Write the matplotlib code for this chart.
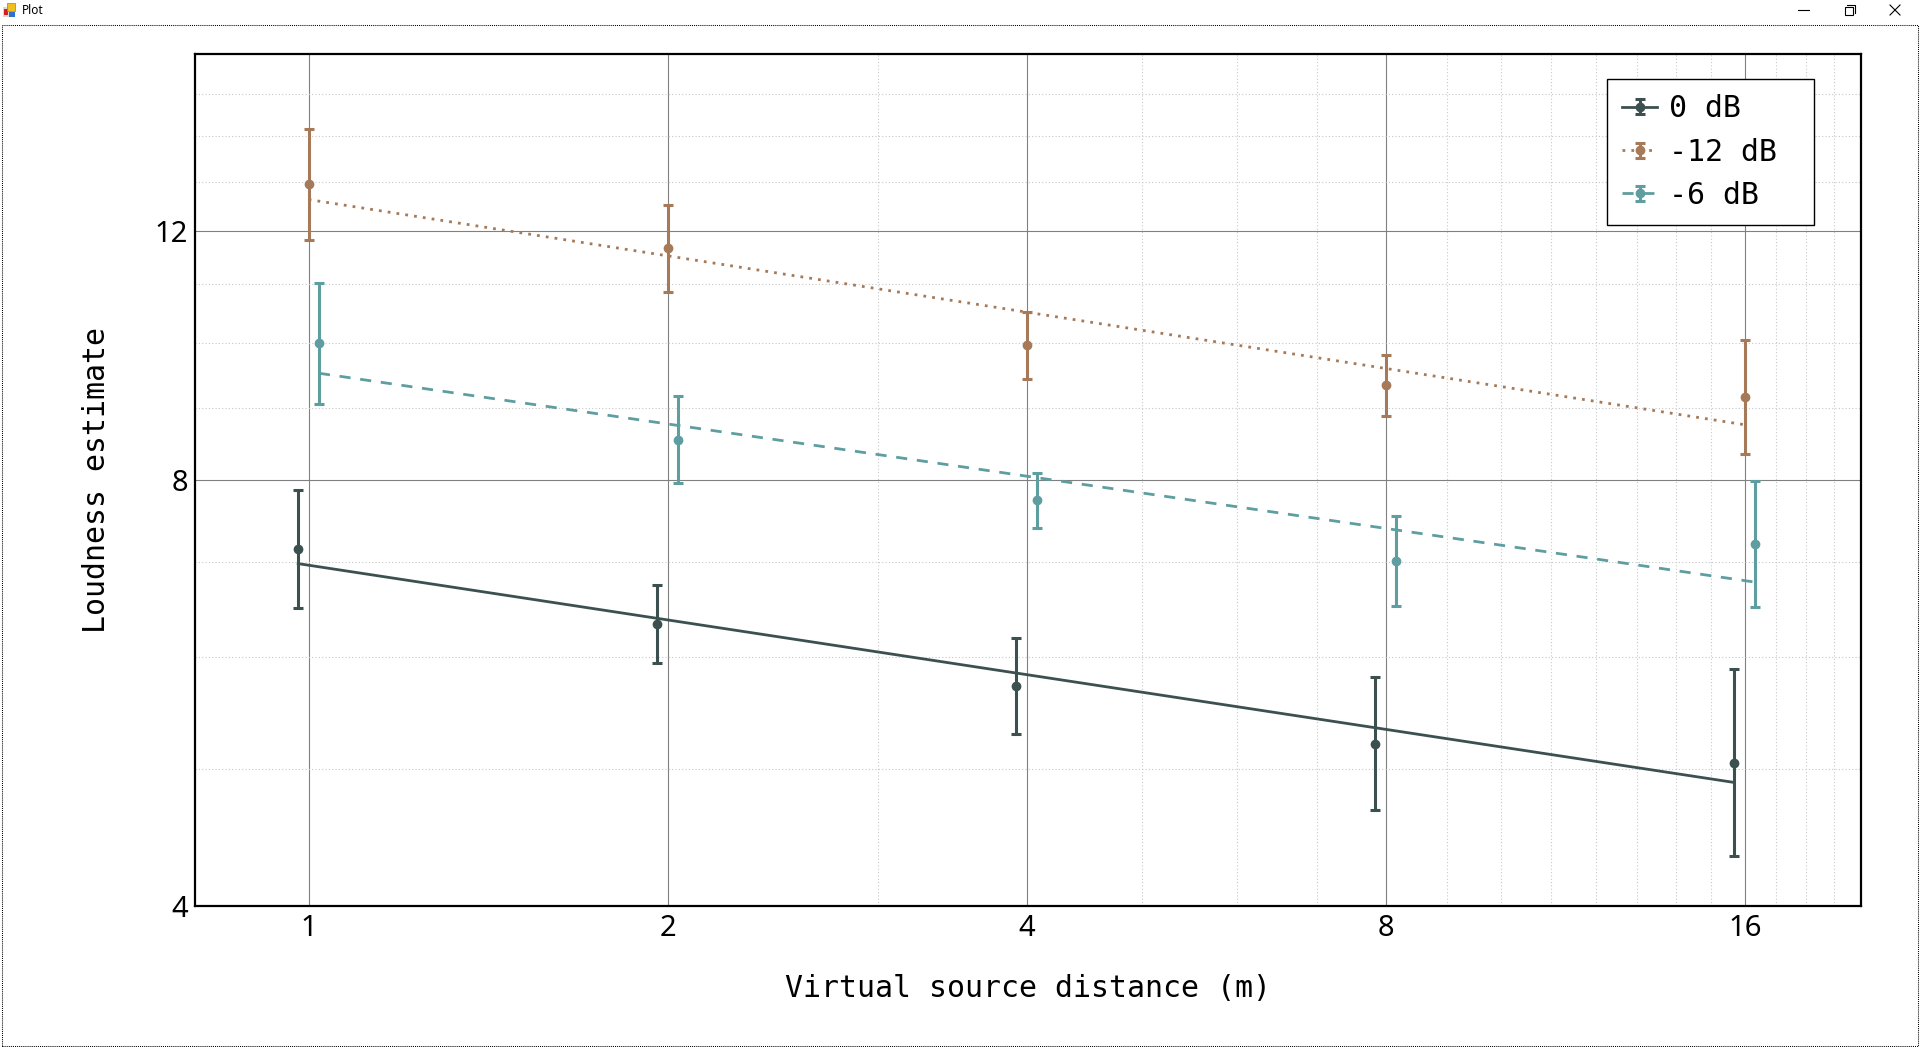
import numpy as np
import matplotlib.pyplot as plt
from matplotlib.container import ErrorbarContainer
from matplotlib.legend_handler import HandlerTuple, HandlerErrorbar
from matplotlib.lines import Line2D
from matplotlib.patches import Rectangle
from matplotlib.ticker import NullFormatter

# data (error bars are multiplicative, symmetric on the log axis)
distance = [1, 2, 4, 8, 16]
series_labels = ['0 dB', '-12 dB', '-6 dB']
loud_0db = [7.15, 6.33, 5.72, 5.21, 5.05]
errf_0db = [1.100, 1.065, 1.081, 1.115, 1.164]
loud_12db = [12.94, 11.66, 9.96, 9.33, 9.15]
errf_12db = [1.095, 1.073, 1.056, 1.051, 1.097]
loud_6db = [9.99, 8.54, 7.74, 7.01, 7.21]
errf_6db = [1.104, 1.073, 1.046, 1.076, 1.108]

x_ticks = [1, 2, 4, 8, 16]
x_minor = [3, 5, 6, 7, 9, 10, 11, 12, 13, 14, 15, 17, 18, 19]
y_ticks = [4, 8, 12]
y_minor = [5, 6, 7, 9, 10, 11, 13, 14, 15]

# style
colors = ['#3d5050', '#a67a58', '#5f9ea0']
line_styles = ['-', (0, (1, 2.2)), (0, (4, 3.5))]
jitter = [0.98, 1.0, 1.02]  # small horizontal offset per series
mono = 'DejaVu Sans Mono'
W, H = 1920, 1047

fig = plt.figure(figsize=(W / 100, H / 100), dpi=100)
fig.patch.set_facecolor('white')


def px(x, y):
    return x / W, 1 - y / H


# window chrome (title bar + focus rectangle)
fig.text(*px(22, 11), 'Plot', fontsize=8.5, family='Noto Sans', va='center', ha='left')
fig.patches.append(Rectangle(px(3, 17), 7 / W, 10 / H, transform=fig.transFigure,
                             facecolor='#d9d9d9', edgecolor='none'))
fig.patches.append(Rectangle(px(4, 15), 4 / W, 6 / H, transform=fig.transFigure,
                             facecolor='#d02020', edgecolor='none'))
fig.patches.append(Rectangle(px(7, 11), 8 / W, 8 / H, transform=fig.transFigure,
                             facecolor='#f0c020', edgecolor='#b08010', lw=0.5))
fig.patches.append(Rectangle(px(9, 17), 6 / W, 5 / H, transform=fig.transFigure,
                             facecolor='#3070d0', edgecolor='none'))
fig.lines.append(Line2D(*zip(px(1798, 10), px(1809, 10)), transform=fig.transFigure,
                        color='black', lw=0.8))
fig.patches.append(Rectangle(px(1845, 15), 8 / W, 8 / H, transform=fig.transFigure,
                             facecolor='white', edgecolor='black', lw=0.8, zorder=3))
fig.lines.append(Line2D(*zip(px(1847, 5), px(1855, 5), px(1855, 13)), transform=fig.transFigure,
                        color='black', lw=0.8))
fig.lines.append(Line2D(*zip(px(1890, 5), px(1900, 15)), transform=fig.transFigure, color='black', lw=0.8))
fig.lines.append(Line2D(*zip(px(1890, 15), px(1900, 5)), transform=fig.transFigure, color='black', lw=0.8))
fig.patches.append(Rectangle(px(1.5, 1046), 1916 / W, 1021 / H, transform=fig.transFigure,
                             facecolor='none', edgecolor='black', lw=0.75, ls=(0, (1, 1))))

# plot area
l, r, t, b = 194.7, 1861, 53.9, 906
ax = fig.add_axes([l / W, 1 - b / H, (r - l) / W, (b - t) / H])
ax.set_xscale('log', base=2)
ax.set_yscale('log', base=2)

handles = []
series = [(loud_0db, errf_0db), (loud_12db, errf_12db), (loud_6db, errf_6db)]
for (y, f), c, ls, j in zip(series, colors, line_styles, jitter):
    y = np.array(y)
    f = np.array(f)
    xj = np.array(distance) * j
    slope, icpt = np.polyfit(np.log(xj), np.log(y), 1)
    xf = np.array([xj[0], xj[-1]])
    fit, = ax.plot(xf, np.exp(icpt) * xf ** slope, color=c, ls=ls, lw=2, zorder=3)
    yerr = [y - y / f, y * f - y]
    eb = ax.errorbar(xj, y, yerr=yerr, fmt='o', color=c, ms=6, elinewidth=2.2,
                     capsize=3.8, capthick=2.2, zorder=4)
    handles.append((fit, eb))

ax.set_xlim(0.8025, 20.02)
ax.set_ylim(4, 16)
ax.set_xticks(x_ticks, labels=[str(v) for v in x_ticks])
ax.set_xticks(x_minor, minor=True)
ax.set_yticks(y_ticks, labels=[str(v) for v in y_ticks])
ax.set_yticks(y_minor, minor=True)
ax.xaxis.set_minor_formatter(NullFormatter())
ax.yaxis.set_minor_formatter(NullFormatter())
ax.tick_params(which='both', length=0)
ax.tick_params(axis='x', labelsize=21, pad=6)
ax.tick_params(axis='y', labelsize=21, pad=5)
for lab in ax.get_xticklabels() + ax.get_yticklabels():
    lab.set_family('Noto Sans')

ax.set_axisbelow(True)
ax.grid(which='major', color='#808080', lw=0.8, ls='-')
ax.grid(which='minor', color='#c8c8c8', lw=0.8, ls=(0, (1, 2)))
for s in ax.spines.values():
    s.set_linewidth(1.6)
    s.set_color('black')

ax.set_xlabel('Virtual source distance (m)', family=mono, fontsize=21.5)
ax.set_ylabel('Loudness estimate', family=mono, fontsize=21.5)
ax.xaxis.set_label_coords(0.5, -(988.5 - b) / (b - t))
ax.xaxis.label.set_va('center')
ax.yaxis.set_label_coords((97 - l) / (r - l), 0.5)
ax.yaxis.label.set_va('center')

# legend box spans a fixed width, entries left-aligned
lx0, lx1, ly0 = 1606.7, 1814.3, 79.3
leg = ax.legend(handles, series_labels, loc='upper left', mode='expand',
                bbox_to_anchor=((lx0 - l) / (r - l), (b - ly0) / (b - t) - 0.2,
                                (lx1 - lx0) / (r - l), 0.2),
                borderaxespad=0, prop={'family': mono, 'size': 21.5},
                handler_map={tuple: HandlerTuple(ndivide=1, pad=0),
                             ErrorbarContainer: HandlerErrorbar(yerr_size=0.25)},
                handlelength=1.2, handletextpad=0.38, borderpad=0.5,
                labelspacing=0.48, fancybox=False, framealpha=1,
                edgecolor='black')
leg.get_frame().set_linewidth(1)

fig.savefig('out.png', dpi=100)
